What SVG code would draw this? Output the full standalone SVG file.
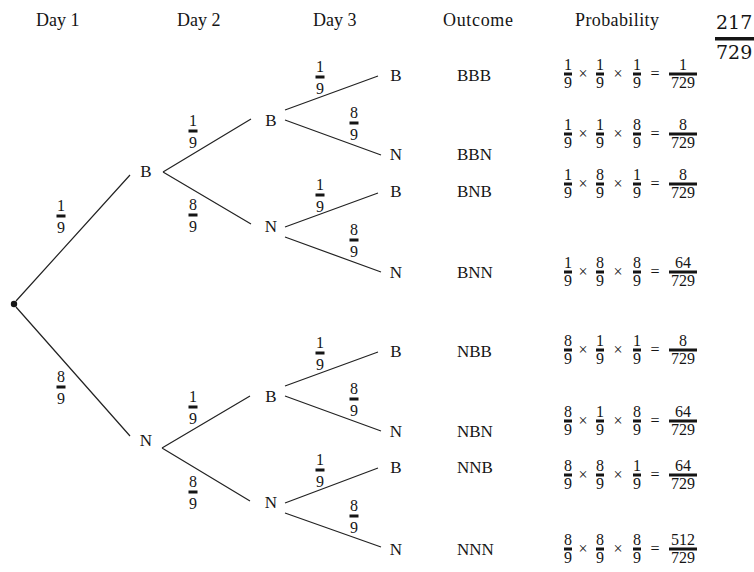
<svg xmlns="http://www.w3.org/2000/svg" width="754" height="572" viewBox="0 0 754 572">
<style>
text{font-family:"Liberation Serif","Times New Roman",serif;fill:#151515}
.h{font-size:18px}
.n{font-size:17px;text-anchor:middle}
.o{font-size:17px}
.f{font-size:16px;text-anchor:middle}
.e{font-size:16px;text-anchor:middle}
.op{font-size:16px;text-anchor:middle}
.bar{fill:#151515}
.ln{stroke:#222;stroke-width:1.2;fill:none}
.big{font-family:"DejaVu Serif",serif;font-size:19px}
</style>
<rect width="754" height="572" fill="#fff"/>
<g id="headers">
<text class="h" x="36" y="26">Day 1</text>
<text class="h" x="177" y="26">Day 2</text>
<text class="h" x="313" y="26">Day 3</text>
<text class="h" x="443" y="26" textLength="70">Outcome</text>
<text class="h" x="575" y="26" textLength="84">Probability</text>
</g>
<g id="total">
<text class="big" x="716" y="29">217</text>
<rect class="bar" x="715" y="37" width="39" height="3.5"/>
<text class="big" x="716" y="59">729</text>
</g>
<g id="connectors">
<path class="ln" d="M16,301 L130,175 M16,307 L130,436"/>
<path class="ln" d="M163,172 L251,119 M163,172 L251,224"/>
<path class="ln" d="M162,448 L250,396 M162,448 L250,501"/>
<path class="ln" d="M285,110 L378,76 M285,120 L381,155"/>
<path class="ln" d="M285,227 L378,193 M285,237 L381,272"/>
<path class="ln" d="M285,386 L378,352 M285,396 L381,431"/>
<path class="ln" d="M285,503 L378,468 M285,513 L381,547"/>
</g>
<g id="root"><circle cx="14" cy="304" r="3.2" fill="#151515"/></g>
<g id="d1B"><text class="n" x="146" y="177">B</text></g>
<g id="d1N"><text class="n" x="146" y="446">N</text></g>
<g id="d2BB"><text class="n" x="271" y="126">B</text></g>
<g id="d2BN"><text class="n" x="271" y="232">N</text></g>
<g id="d2NB"><text class="n" x="271" y="402">B</text></g>
<g id="d2NN"><text class="n" x="271" y="508">N</text></g>
<g id="d3BBB"><text class="n" x="396" y="81">B</text></g>
<g id="d3BBN"><text class="n" x="396" y="160">N</text></g>
<g id="d3BNB"><text class="n" x="396" y="197">B</text></g>
<g id="d3BNN"><text class="n" x="396" y="278">N</text></g>
<g id="d3NBB"><text class="n" x="396" y="357">B</text></g>
<g id="d3NBN"><text class="n" x="396" y="437">N</text></g>
<g id="d3NNB"><text class="n" x="396" y="473">B</text></g>
<g id="d3NNN"><text class="n" x="396" y="555">N</text></g>
<g id="branch-fractions">
<text class="f" x="61" y="211">1</text><rect class="bar" x="56.5" y="214.5" width="9" height="3"/><text class="f" x="61" y="233">9</text>
<text class="f" x="61" y="382">8</text><rect class="bar" x="56.5" y="385.5" width="9" height="3"/><text class="f" x="61" y="404">9</text>
<text class="f" x="193" y="126">1</text><rect class="bar" x="188.5" y="129.5" width="9" height="3"/><text class="f" x="193" y="148">9</text>
<text class="f" x="193" y="210">8</text><rect class="bar" x="188.5" y="213.5" width="9" height="3"/><text class="f" x="193" y="232">9</text>
<text class="f" x="193" y="402">1</text><rect class="bar" x="188.5" y="405.5" width="9" height="3"/><text class="f" x="193" y="424">9</text>
<text class="f" x="193" y="487">8</text><rect class="bar" x="188.5" y="490.5" width="9" height="3"/><text class="f" x="193" y="509">9</text>
<text class="f" x="320" y="72">1</text><rect class="bar" x="315.5" y="75.5" width="9" height="3"/><text class="f" x="320" y="94">9</text>
<text class="f" x="354" y="118">8</text><rect class="bar" x="349.5" y="121.5" width="9" height="3"/><text class="f" x="354" y="140">9</text>
<text class="f" x="320" y="190">1</text><rect class="bar" x="315.5" y="193.5" width="9" height="3"/><text class="f" x="320" y="212">9</text>
<text class="f" x="354" y="235">8</text><rect class="bar" x="349.5" y="238.5" width="9" height="3"/><text class="f" x="354" y="257">9</text>
<text class="f" x="320" y="348">1</text><rect class="bar" x="315.5" y="351.5" width="9" height="3"/><text class="f" x="320" y="370">9</text>
<text class="f" x="354" y="394">8</text><rect class="bar" x="349.5" y="397.5" width="9" height="3"/><text class="f" x="354" y="416">9</text>
<text class="f" x="320" y="465">1</text><rect class="bar" x="315.5" y="468.5" width="9" height="3"/><text class="f" x="320" y="487">9</text>
<text class="f" x="354" y="511">8</text><rect class="bar" x="349.5" y="514.5" width="9" height="3"/><text class="f" x="354" y="533">9</text>
</g>
<g id="outcomes">
<text class="o" x="457" y="81">BBB</text>
<text class="o" x="457" y="160">BBN</text>
<text class="o" x="457" y="197">BNB</text>
<text class="o" x="457" y="278">BNN</text>
<text class="o" x="457" y="357">NBB</text>
<text class="o" x="457" y="437">NBN</text>
<text class="o" x="457" y="473">NNB</text>
<text class="o" x="457" y="555">NNN</text>
</g>
<defs>
<g id="ops">
<text class="op" x="583" y="5">×</text>
<text class="op" x="618" y="5">×</text>
<text class="op" x="655" y="5">=</text>
<rect class="bar" x="669" y="-1.5" width="28" height="3"/>
<rect class="bar" x="564" y="-1.5" width="8" height="3"/>
<rect class="bar" x="596" y="-1.5" width="8" height="3"/>
<rect class="bar" x="633" y="-1.5" width="8" height="3"/>
</g>
</defs>
<g id="prob-BBB" transform="translate(0,74)"><use href="#ops"/>
<text class="e" x="568" y="-4">1</text><text class="e" x="568" y="14">9</text>
<text class="e" x="600" y="-4">1</text><text class="e" x="600" y="14">9</text>
<text class="e" x="637" y="-4">1</text><text class="e" x="637" y="14">9</text>
<text class="e" x="683" y="-4">1</text><text class="e" x="683" y="14">729</text></g>
<g id="prob-BBN" transform="translate(0,134)"><use href="#ops"/>
<text class="e" x="568" y="-4">1</text><text class="e" x="568" y="14">9</text>
<text class="e" x="600" y="-4">1</text><text class="e" x="600" y="14">9</text>
<text class="e" x="637" y="-4">8</text><text class="e" x="637" y="14">9</text>
<text class="e" x="683" y="-4">8</text><text class="e" x="683" y="14">729</text></g>
<g id="prob-BNB" transform="translate(0,184)"><use href="#ops"/>
<text class="e" x="568" y="-4">1</text><text class="e" x="568" y="14">9</text>
<text class="e" x="600" y="-4">8</text><text class="e" x="600" y="14">9</text>
<text class="e" x="637" y="-4">1</text><text class="e" x="637" y="14">9</text>
<text class="e" x="683" y="-4">8</text><text class="e" x="683" y="14">729</text></g>
<g id="prob-BNN" transform="translate(0,272)"><use href="#ops"/>
<text class="e" x="568" y="-4">1</text><text class="e" x="568" y="14">9</text>
<text class="e" x="600" y="-4">8</text><text class="e" x="600" y="14">9</text>
<text class="e" x="637" y="-4">8</text><text class="e" x="637" y="14">9</text>
<text class="e" x="683" y="-4">64</text><text class="e" x="683" y="14">729</text></g>
<g id="prob-NBB" transform="translate(0,350)"><use href="#ops"/>
<text class="e" x="568" y="-4">8</text><text class="e" x="568" y="14">9</text>
<text class="e" x="600" y="-4">1</text><text class="e" x="600" y="14">9</text>
<text class="e" x="637" y="-4">1</text><text class="e" x="637" y="14">9</text>
<text class="e" x="683" y="-4">8</text><text class="e" x="683" y="14">729</text></g>
<g id="prob-NBN" transform="translate(0,421)"><use href="#ops"/>
<text class="e" x="568" y="-4">8</text><text class="e" x="568" y="14">9</text>
<text class="e" x="600" y="-4">1</text><text class="e" x="600" y="14">9</text>
<text class="e" x="637" y="-4">8</text><text class="e" x="637" y="14">9</text>
<text class="e" x="683" y="-4">64</text><text class="e" x="683" y="14">729</text></g>
<g id="prob-NNB" transform="translate(0,475)"><use href="#ops"/>
<text class="e" x="568" y="-4">8</text><text class="e" x="568" y="14">9</text>
<text class="e" x="600" y="-4">8</text><text class="e" x="600" y="14">9</text>
<text class="e" x="637" y="-4">1</text><text class="e" x="637" y="14">9</text>
<text class="e" x="683" y="-4">64</text><text class="e" x="683" y="14">729</text></g>
<g id="prob-NNN" transform="translate(0,549)"><use href="#ops"/>
<text class="e" x="568" y="-4">8</text><text class="e" x="568" y="14">9</text>
<text class="e" x="600" y="-4">8</text><text class="e" x="600" y="14">9</text>
<text class="e" x="637" y="-4">8</text><text class="e" x="637" y="14">9</text>
<text class="e" x="683" y="-4">512</text><text class="e" x="683" y="14">729</text></g>
</svg>
